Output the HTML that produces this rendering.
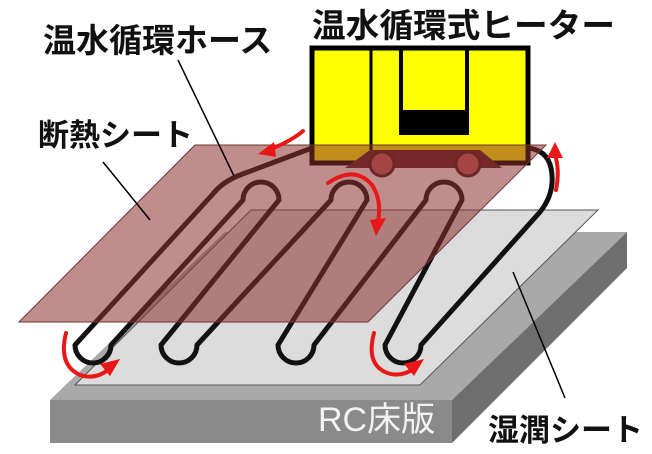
<!DOCTYPE html>
<html><head><meta charset="utf-8"><style>
html,body{margin:0;padding:0;background:#fff;}
svg{display:block;}
text{font-family:"Liberation Sans","Noto Sans CJK JP",sans-serif;}
</style></head><body>
<svg width="652" height="454" viewBox="0 0 652 454" xmlns="http://www.w3.org/2000/svg">
<!-- RC slab -->
<polygon points="50,400 452,400 627,232 225,232" fill="#a9a9a9"/>
<polygon points="50,400 452,400 452,443 50,443" fill="#8a8a8a"/>
<polygon points="452,400 627,232 627,268 452,443" fill="#6e6e6e"/>
<text x="318" y="431" font-size="34" fill="#f2f2f2">RC床版</text>
<!-- wet sheet -->
<polygon points="75,385 420,385 598,210 251,210" fill="#dcdcdc" stroke="#555" stroke-width="1"/>
<!-- hose -->
<path d="M312,148 L240,175 Q222,182 212,195 L75,345 A18 18 0 0 0 111,345 L243,200 A18 18 0 0 1 279,200 L161,345 A18 18 0 0 0 197,345 L331,200 A18 18 0 0 1 367,200 L278,345 A18 18 0 0 0 314,345 L426,200 A18 18 0 0 1 462,200 L385,345 A18 18 0 0 0 421,345 L540,212 Q556,192 551,168 Q547,150 528,148" fill="none" stroke="#111" stroke-width="5" stroke-linejoin="round"/>
<!-- heater -->
<rect x="312" y="48" width="216" height="115" fill="#ffff00" stroke="#000" stroke-width="5"/>
<line x1="371" y1="48" x2="371" y2="163" stroke="#000" stroke-width="3"/>
<path d="M401,48 L401,133 L467,133 L467,48" fill="none" stroke="#000" stroke-width="4"/>
<rect x="401" y="110" width="66" height="24" fill="#000"/>
<polygon points="345,168 370,150 480,150 502,168" fill="#5a2020"/>
<circle cx="382" cy="164" r="12" fill="#c06060" stroke="#4a1a1a" stroke-width="3"/>
<circle cx="468" cy="164" r="12" fill="#c06060" stroke="#4a1a1a" stroke-width="3"/>
<!-- insulation sheet -->
<polygon points="19,322 368,322 546,145 195,145" fill="#8c2f2f" fill-opacity="0.55" stroke="#6a3535" stroke-width="1"/>
<!-- red arrows -->
<g fill="none" stroke="#e81818" stroke-width="4" stroke-linecap="round">
<path d="M303,131 Q290,142 268,150"/>
<path d="M328,183 Q355,165 372,185 Q382,200 378,222"/>
<path d="M556,190 Q560,170 555,155"/>
<path d="M66,333 Q58,365 80,375 Q95,380 108,370"/>
<path d="M374,333 Q366,363 385,372 Q398,378 412,370"/>
</g>
<g fill="#e81818">
<polygon points="258,154 274,142 276,157"/>
<polygon points="370,220 386,218 376,236"/>
<polygon points="547,158 555,142 563,158"/>
<polygon points="100,364 120,359 110,376"/>
<polygon points="404,364 424,359 414,376"/>
</g>
<!-- leader lines -->
<g stroke="#000" stroke-width="1.5">
<line x1="178" y1="60" x2="234" y2="176"/>
<line x1="103" y1="162" x2="150" y2="220"/>
<line x1="565" y1="398" x2="513" y2="272"/>
</g>
<!-- labels -->
<g font-weight="bold" fill="#111">
<text x="43" y="52" font-size="33">温水循環ホース</text>
<text x="312" y="37" font-size="33" textLength="303" lengthAdjust="spacingAndGlyphs">温水循環式ヒーター</text>
<text x="38" y="146" font-size="31">断熱シート</text>
<text x="488" y="441" font-size="31">湿潤シート</text>
</g>
</svg>
</body></html>
